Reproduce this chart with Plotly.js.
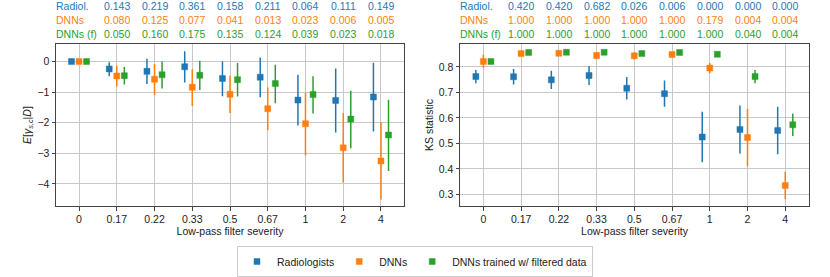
<!DOCTYPE html>
<html>
<head>
<meta charset="utf-8">
<script src="https://cdn.plot.ly/plotly-3.0.1.min.js"></script>
<style>html,body{margin:0;padding:0;background:#fff;}#chart{width:830px;height:277px;}</style>
</head>
<body>
<div id="chart"></div>
<script>
// ---- data ----
const categories = ['0', '0.17', '0.22', '0.33', '0.5', '0.67', '1', '2', '4'];
const seriesNames = ['Radiologists', 'DNNs', 'DNNs trained w/ filtered data'];
const shortNames = ['Radiol.', 'DNNs', 'DNNs (f)'];

// Left panel: E[gamma_{s,c} | D]
const gammaRadiol = [0, -0.24, -0.32, -0.17, -0.55, -0.51, -1.26, -1.27, -1.16];
const gammaRadiolHi = [0, 0.22, 0.41, 0.51, 0.55, 0.64, 0.83, 1.04, 1.12];
const gammaRadiolLo = [0, 0.24, 0.41, 0.51, 0.58, 0.66, 0.83, 1.05, 1.13];
const gammaDNN = [0, -0.47, -0.58, -0.84, -1.07, -1.54, -2.03, -2.82, -3.25];
const gammaDNNHi = [0, 0.33, 0.50, 0.59, 0.61, 0.69, 1.01, 1.14, 1.27];
const gammaDNNLo = [0, 0.35, 0.52, 0.61, 0.61, 0.70, 1.04, 1.13, 1.26];
const gammaDNNf = [0, -0.46, -0.43, -0.45, -0.59, -0.72, -1.08, -1.88, -2.40];
const gammaDNNfHi = [0, 0.28, 0.43, 0.48, 0.54, 0.62, 0.60, 0.93, 1.15];
const gammaDNNfLo = [0, 0.29, 0.45, 0.48, 0.55, 0.64, 0.62, 0.95, 1.18];

// Right panel: KS statistic
const ksRadiol = [0.762, 0.761, 0.749, 0.766, 0.716, 0.695, 0.525, 0.555, 0.551];
const ksRadiolErr = [0.026, 0.030, 0.036, 0.037, 0.044, 0.051, 0.099, 0.094, 0.093];
const ksDNN = [0.821, 0.852, 0.853, 0.844, 0.843, 0.848, 0.795, 0.523, 0.335];
const ksDNNErr = [0.026, 0.006, 0.006, 0.014, 0.014, 0.006, 0.020, 0.112, 0.054];
const ksDNNf = [0.821, 0.856, 0.857, 0.857, 0.852, 0.856, 0.849, 0.762, 0.573];
const ksDNNfErr = [0.009, 0.005, 0.005, 0.005, 0.005, 0.005, 0.005, 0.026, 0.044];

// p-value rows (for categories 0.17 .. 4)
const pLeftRadiol = ['0.143', '0.219', '0.361', '0.158', '0.211', '0.064', '0.111', '0.149'];
const pLeftDNN = ['0.080', '0.125', '0.077', '0.041', '0.013', '0.023', '0.006', '0.005'];
const pLeftDNNf = ['0.050', '0.160', '0.175', '0.135', '0.124', '0.039', '0.023', '0.018'];
const pRightRadiol = ['0.420', '0.420', '0.682', '0.026', '0.006', '0.000', '0.000', '0.000'];
const pRightDNN = ['1.000', '1.000', '1.000', '1.000', '1.000', '0.179', '0.004', '0.004'];
const pRightDNNf = ['1.000', '1.000', '1.000', '1.000', '1.000', '1.000', '0.040', '0.004'];

// ---- style ----
const colors = ['#1f77b4', '#ff7f0e', '#2ca02c'];
const halo = ['rgba(31,119,180,0.45)', 'rgba(255,127,14,0.45)', 'rgba(44,160,44,0.45)'];
const offsets = [-0.2, 0, 0.2];
const FONT = 'Liberation Sans, Arial, Helvetica, sans-serif';
const idx = categories.map((c, i) => i);

function mk(vals, hi, lo, s, xa, ya, showLegend) {
  return {
    type: 'scatter', mode: 'markers',
    x: idx.map(i => i + offsets[s]), y: vals,
    xaxis: xa, yaxis: ya,
    name: seriesNames[s], showlegend: showLegend, legendgroup: 'g' + s,
    marker: {symbol: 'square', size: 6, color: colors[s], line: {width: 1, color: halo[s]}},
    error_y: {type: 'data', symmetric: false, array: hi, arrayminus: lo,
              color: colors[s], thickness: 1.5, width: 0},
    hoverinfo: 'skip'
  };
}

const traces = [
  mk(gammaRadiol, gammaRadiolHi, gammaRadiolLo, 0, 'x', 'y', true),
  mk(gammaDNN, gammaDNNHi, gammaDNNLo, 1, 'x', 'y', true),
  mk(gammaDNNf, gammaDNNfHi, gammaDNNfLo, 2, 'x', 'y', true),
  mk(ksRadiol, ksRadiolErr, ksRadiolErr, 0, 'x2', 'y2', false),
  mk(ksDNN, ksDNNErr, ksDNNErr, 1, 'x2', 'y2', false),
  mk(ksDNNf, ksDNNfErr, ksDNNfErr, 2, 'x2', 'y2', false)
];

const W = 830, H = 277;
const yDom = [1 - 207 / H, 1 - 44 / H];
const x1Dom = [56 / W, 404 / W];
const x2Dom = [460 / W, 809 / W];

function xAxis(dom, range, anchor) {
  return {
    domain: dom, range: range, anchor: anchor,
    tickmode: 'array', tickvals: idx, ticktext: categories,
    showgrid: true, gridcolor: '#c8c8c8', gridwidth: 1,
    zeroline: false, showline: true, mirror: true, linecolor: '#444', linewidth: 1,
    ticks: 'outside', ticklen: 3.5, tickwidth: 1, tickcolor: '#444',
    tickfont: {family: FONT, size: 10.5, color: '#222'},
    title: {text: 'Low-pass filter severity', font: {family: FONT, size: 10.5, color: '#222'}, standoff: 2}
  };
}
function yAxis(dom, range, anchor, extra) {
  return Object.assign({
    domain: dom, range: range, anchor: anchor,
    showgrid: true, gridcolor: '#c8c8c8', gridwidth: 1,
    zeroline: false, showline: true, mirror: true, linecolor: '#444', linewidth: 1,
    ticks: 'outside', ticklen: 3.5, tickwidth: 1, tickcolor: '#444',
    tickfont: {family: FONT, size: 10.5, color: '#222'}
  }, extra);
}

const annotations = [];
function rowLabels(xPaperLeft, xref, rows) {
  const ys = [1 - 6 / H, 1 - 20 / H, 1 - 34 / H];
  rows.forEach((vals, s) => {
    annotations.push({xref: 'paper', yref: 'paper', x: xPaperLeft, y: ys[s],
      xanchor: 'left', yanchor: 'middle', showarrow: false, text: shortNames[s],
      font: {family: FONT, size: 10.5, color: colors[s]}});
    vals.forEach((v, k) => {
      annotations.push({xref: xref, yref: 'paper', x: k + 1, y: ys[s],
        xanchor: 'center', yanchor: 'middle', showarrow: false, text: v,
        font: {family: FONT, size: 10.5, color: colors[s]}});
    });
  });
}
rowLabels(x1Dom[0] - 0.002, 'x', [pLeftRadiol, pLeftDNN, pLeftDNNf]);
rowLabels(x2Dom[0] - 0.002, 'x2', [pRightRadiol, pRightDNN, pRightDNNf]);

const layout = {
  width: W, height: H,
  margin: {l: 0, r: 0, t: 0, b: 0},
  paper_bgcolor: '#fff', plot_bgcolor: '#fff',
  showlegend: true,
  font: {family: FONT, size: 10.5, color: '#222'},
  xaxis: xAxis(x1Dom, [-0.61, 8.61], 'y'),
  yaxis: yAxis(yDom, [-4.73, 0.58], 'x', {
    tickvals: [-4, -3, -2, -1, 0],
    title: {text: '<i>E</i>[<i>γ</i><sub><i>s,c</i></sub>|<i>D</i>]', font: {family: FONT, size: 10.5, color: '#222'}, standoff: 3}
  }),
  xaxis2: xAxis(x2Dom, [-0.62, 8.63], 'y2'),
  yaxis2: yAxis(yDom, [0.254, 0.89], 'x2', {
    tickvals: [0.3, 0.4, 0.5, 0.6, 0.7, 0.8], tickformat: '.1f',
    title: {text: 'KS statistic', font: {family: FONT, size: 10.5, color: '#222'}, standoff: 3}
  }),
  legend: {
    orientation: 'h', x: 0.5, xanchor: 'center', y: 1 - 262 / H, yanchor: 'middle',
    bordercolor: '#cccccc', borderwidth: 1, bgcolor: '#fff',
    font: {family: FONT, size: 10.5, color: '#222'}
  },
  annotations: annotations
};

Plotly.newPlot('chart', traces, layout, {displayModeBar: false, staticPlot: true});
</script>
</body>
</html>
